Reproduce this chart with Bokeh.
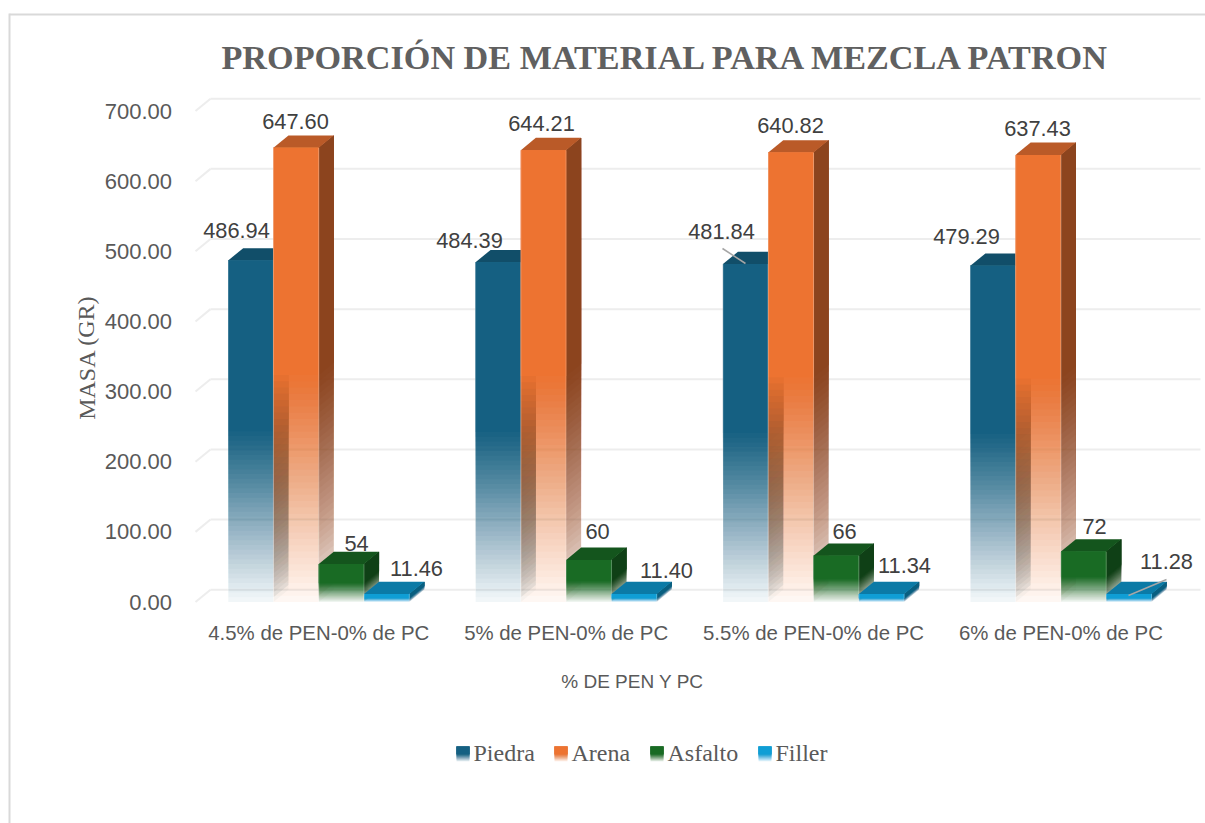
from bokeh.plotting import figure
from bokeh.models import Range1d, LinearAxis, FixedTicker, NumeralTickFormatter
from bokeh.core.properties import value
from bokeh.embed import file_html
from bokeh.resources import INLINE

categories = ["4.5% de PEN-0% de PC", "5% de PEN-0% de PC", "5.5% de PEN-0% de PC", "6% de PEN-0% de PC"]
piedra = [486.94, 484.39, 481.84, 479.29]
arena = [647.60, 644.21, 640.82, 637.43]
asfalto = [54, 60, 66, 72]
filler = [11.46, 11.40, 11.34, 11.28]
piedra_labels = ["486.94", "484.39", "481.84", "479.29"]
arena_labels = ["647.60", "644.21", "640.82", "637.43"]
asfalto_labels = ["54", "60", "66", "72"]
filler_labels = ["11.46", "11.40", "11.34", "11.28"]
y_ticks = [0, 100, 200, 300, 400, 500, 600, 700]
series_names = ["Piedra", "Arena", "Asfalto", "Filler"]
series_colors = ["#156082", "#ED7331", "#196B24", "#0F9ED5"]
top_colors = ["#114E69", "#BA5A28", "#14551D", "#0B7AA6"]
side_colors = ["#0D3A4E", "#8C441E", "#0F4016", "#095F80"]

# page pixel geometry -> data scales
W, H = 1205, 823
PX_Y0, PX_PER_UNIT = 601.5, 0.7014
PX_X0, PX_PER_CAT = 318.25, 247.4
def X(px): return (px - PX_X0) / PX_PER_CAT
def Y(py): return (PX_Y0 - py) / PX_PER_UNIT

p = figure(width=W, height=H, output_backend="svg", toolbar_location=None,
           x_range=Range1d(X(0), X(W)), y_range=Range1d(Y(H), Y(0)),
           x_axis_location=None, y_axis_location=None, min_border=0,
           background_fill_color="white", border_fill_color="white", outline_line_color=None)
p.xgrid.visible = False
p.ygrid.visible = False

BAR_W = 45.3 / PX_PER_CAT
DX, DY = 15 / PX_PER_CAT, 12.3 / PX_PER_UNIT

# border of the chart area
BORDER = "#D9D9D9"
p.segment([X(9)], [Y(14)], [X(1205)], [Y(14)], line_color=BORDER, line_width=2)
p.segment([X(9)], [Y(13)], [X(9)], [Y(823)], line_color=BORDER, line_width=2)

# gridlines on the back plane + slanted floor
GRID = "#EDEDED"
gx0, gx1 = X(210), X(1200)
p.segment([gx0] * len(y_ticks), [t + DY for t in y_ticks], [gx1] * len(y_ticks), [t + DY for t in y_ticks],
          line_color=GRID, line_width=2)
p.segment([gx0 - DX] * len(y_ticks), y_ticks, [gx0] * len(y_ticks), [t + DY for t in y_ticks],
          line_color=GRID, line_width=2)

def alpha_layers(steps=36, a0=0.06, power=1.0):
    """nested low-alpha layers build a vertical fade with no seams"""
    out, prev = [], 0.0
    for k in range(steps + 1):
        A = a0 + (1 - a0) * (k / steps) ** power
        out.append((k / steps, 1 - (1 - A) / (1 - prev)))
        prev = A
    return out
LAYERS = alpha_layers()
SIDE_LAYERS = alpha_layers(a0=0.03, power=0.7)

def bar3d(xc, val, ci):
    xl, xr = xc - BAR_W / 2, xc + BAR_W / 2
    mid = val / 2
    # side face, then top, then front
    xs, ys, al = [], [], []
    for f, a in SIDE_LAYERS:
        lo = mid * f
        xs.append([xr, xr + DX, xr + DX, xr])
        ys.append([lo, lo + DY, val + DY, val])
        al.append(a)
    p.patches(xs, ys, fill_color=side_colors[ci], fill_alpha=al, line_color=None)
    p.patch([xl, xr, xr + DX, xl + DX], [val, val, val + DY, val + DY], fill_color=top_colors[ci], line_color=None)
    p.quad(left=[xl] * len(LAYERS), right=[xr] * len(LAYERS), top=[val] * len(LAYERS),
           bottom=[mid * f for f, _ in LAYERS], fill_color=series_colors[ci],
           fill_alpha=[a for _, a in LAYERS], line_color=None)
    # pale edge of the front face
    p.segment([xl, xr], [0, 0], [xl, xr], [val, val], line_color="white", line_alpha=0.3, line_width=1)

series = [piedra, arena, asfalto, filler]
for g in range(len(categories)):
    for s, vals in enumerate(series):
        xc = g + (s - 1.5) * BAR_W
        bar3d(xc, vals[g], s)

# value labels, placed by hand like the reference
VAL_FONT = "Liberation Sans"
lab_px = [
    (piedra_labels, [(236, 230), (469, 240), (721, 231), (966, 236)]),
    (arena_labels, [(295, 121), (541, 123), (790, 125), (1037, 128)]),
    (asfalto_labels, [(356, 543), (597, 531), (844, 531), (1094, 526)]),
    (filler_labels, [(416, 568), (666, 570), (904, 565), (1166, 561)]),
]
for texts, pos in lab_px:
    p.text([X(a) for a, _ in pos], [Y(b) for _, b in pos], text=texts, text_font=value(VAL_FONT),
           text_font_size="21.8px", text_color="#404040", text_align="center", text_baseline="middle")
# leader lines
p.segment([X(722), X(1128)], [Y(248), Y(595)], [X(745), X(1166)], [Y(263), Y(579)], line_color="#A6A6A6", line_width=1.5)

# axes
yaxis = LinearAxis(fixed_location=X(184.5), ticker=FixedTicker(ticks=y_ticks),
                   formatter=NumeralTickFormatter(format="0.00"))
yaxis.axis_line_color = None
yaxis.major_tick_line_color = None
yaxis.minor_tick_line_color = None
yaxis.major_label_standoff = 7
yaxis.major_label_text_font = VAL_FONT
yaxis.major_label_text_font_size = "22px"
yaxis.major_label_text_color = "#595959"
p.add_layout(yaxis, "left")

xaxis = LinearAxis(fixed_location=Y(612), ticker=FixedTicker(ticks=list(range(len(categories)))),
                   major_label_overrides={i: c for i, c in enumerate(categories)})
xaxis.axis_line_color = None
xaxis.major_tick_line_color = None
xaxis.minor_tick_line_color = None
xaxis.major_label_standoff = 3
xaxis.major_label_text_font = VAL_FONT
xaxis.major_label_text_font_size = "20.4px"
xaxis.major_label_text_color = "#595959"
p.add_layout(xaxis, "below")

# titles
p.text([X(666.5)], [Y(57)], text=["PROPORCIÓN DE MATERIAL PARA MEZCLA PATRON"], text_font=value("Liberation Serif"),
       text_font_style="bold", text_font_size="34.2px", text_color="#606060", text_align="center", text_baseline="middle")
p.text([X(86)], [Y(357)], text=["MASA (GR)"], text_font=value("Liberation Serif"), text_font_size="24px",
       text_color="#595959", text_align="center", text_baseline="middle", angle=1.5708)
p.text([X(632)], [Y(681)], text=["% DE PEN Y PC"], text_font=value(VAL_FONT), text_font_size="19px",
       text_color="#595959", text_align="center", text_baseline="middle")

# legend with faded swatches
leg_x = [456, 554, 650, 758]
for s, name in enumerate(series_names):
    sx0, sx1 = X(leg_x[s]), X(leg_x[s] + 13)
    t, b = Y(746), Y(761)
    mid = (t + b) / 2
    n = len(LAYERS)
    p.quad(left=[sx0] * n, right=[sx1] * n, top=[t] * n,
           bottom=[b + (mid - b) * f for f, _ in LAYERS], fill_color=series_colors[s],
           fill_alpha=[a for _, a in LAYERS], line_color=None)
    p.text([X(leg_x[s] + 17)], [Y(752.5)], text=[name], text_font=value("Liberation Serif"), text_font_size="24px",
           text_color="#595959", text_align="left", text_baseline="middle")

open("out.html", "w").write(file_html(p, INLINE))
